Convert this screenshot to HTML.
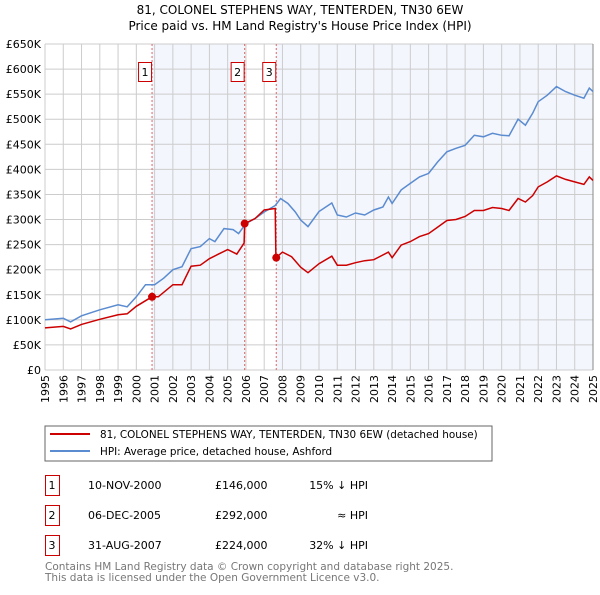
<!DOCTYPE html>
<html><head><meta charset="utf-8"><style>
body{margin:0;background:#fff;font-family:"Liberation Sans","DejaVu Sans",sans-serif;}
svg text{font-family:"DejaVu Sans","Liberation Sans",sans-serif;}
</style></head><body>
<svg id="c" width="600" height="590" xmlns="http://www.w3.org/2000/svg">
<text x="300" y="14" text-anchor="middle" font-size="12">81, COLONEL STEPHENS WAY, TENTERDEN, TN30 6EW</text>
<text x="300" y="30" text-anchor="middle" font-size="12">Price paid vs. HM Land Registry's House Price Index (HPI)</text>
<g id="plot"></g>
<rect x="45" y="426" width="447" height="35" fill="#fff" stroke="#666"/>
<line x1="50" y1="434" x2="90" y2="434" stroke="#cc0000" stroke-width="2"/>
<text x="100" y="438" font-size="10.4">81, COLONEL STEPHENS WAY, TENTERDEN, TN30 6EW (detached house)</text>
<line x1="50" y1="451" x2="90" y2="451" stroke="#5b8bd0" stroke-width="2"/>
<text x="100" y="455" font-size="10.4">HPI: Average price, detached house, Ashford</text>
<g font-size="11">
<rect x="45.5" y="475.5" width="14" height="20" fill="#fff" stroke="#cc0000"/><text x="52" y="489" text-anchor="middle">1</text>
<text x="88" y="489">10-NOV-2000</text><text x="215" y="489">£146,000</text><text x="368" y="489" text-anchor="end">15% ↓ HPI</text>
<rect x="45.5" y="505.5" width="14" height="20" fill="#fff" stroke="#cc0000"/><text x="52" y="519" text-anchor="middle">2</text>
<text x="88" y="519">06-DEC-2005</text><text x="215" y="519">£292,000</text><text x="368" y="519" text-anchor="end">≈ HPI</text>
<rect x="45.5" y="535.5" width="14" height="20" fill="#fff" stroke="#cc0000"/><text x="52" y="549" text-anchor="middle">3</text>
<text x="88" y="549">31-AUG-2007</text><text x="215" y="549">£224,000</text><text x="368" y="549" text-anchor="end">32% ↓ HPI</text>
</g>
<text x="45" y="570" font-size="10.5" fill="#777">Contains HM Land Registry data © Crown copyright and database right 2025.</text>
<text x="45" y="581" font-size="10.5" fill="#777">This data is licensed under the Open Government Licence v3.0.</text>
</svg>
<script>
const hpiYears=[1995,1996,1996.4,1997,1998,1999,1999.5,2000,2000.5,2001,2001.5,2002,2002.5,2003,2003.5,2004,2004.3,2004.8,2005.3,2005.6,2006,2006.5,2007,2007.6,2007.9,2008.3,2008.7,2009,2009.4,2010,2010.7,2011,2011.5,2012,2012.5,2013,2013.5,2013.8,2014,2014.5,2015,2015.5,2016,2016.5,2017,2017.5,2018,2018.5,2019,2019.5,2020,2020.4,2020.9,2021.3,2021.7,2022,2022.5,2023,2023.5,2024,2024.5,2024.8,2025];
const hpiValues=[100,103,96,108,120,130,126,146,170,170,183,200,206,242,246,262,256,282,280,272,292,302,315,328,342,332,315,299,286,316,333,309,305,313,309,319,325,345,332,359,372,385,392,415,435,442,448,468,465,472,468,467,500,488,512,535,548,565,555,548,542,562,555];
const priceYears=[1995,1996,1996.4,1997,1998,1999,1999.5,2000,2000.86,2001.2,2002,2002.5,2003,2003.5,2004,2004.5,2005,2005.5,2005.9,2005.93,2006.5,2007,2007.6,2007.64,2008,2008.5,2009,2009.4,2010,2010.7,2011,2011.5,2012,2012.5,2013,2013.8,2014,2014.5,2015,2015.5,2016,2016.5,2017,2017.5,2018,2018.5,2019,2019.5,2020,2020.4,2020.9,2021.3,2021.7,2022,2022.5,2023,2023.5,2024,2024.5,2024.8,2025];
const priceValues=[84,87,82,91,101,110,112,127,146,146,170,170,207,209,222,231,240,231,253,292,302,319,322,224,235,226,205,194,212,227,209,209,214,218,220,235,224,249,256,266,272,285,298,300,306,318,318,324,322,318,342,335,348,365,375,387,380,375,370,385,378];
const saleYears=[2000.86,2005.93,2007.66];
const saleValues=[146,292,224];
const saleLabels=["1","2","3"];
const yTicks=[0,50,100,150,200,250,300,350,400,450,500,550,600,650];
const yTickLabels=["£0","£50K","£100K","£150K","£200K","£250K","£300K","£350K","£400K","£450K","£500K","£550K","£600K","£650K"];
const xTicks=[1995,1996,1997,1998,1999,2000,2001,2002,2003,2004,2005,2006,2007,2008,2009,2010,2011,2012,2013,2014,2015,2016,2017,2018,2019,2020,2021,2022,2023,2024,2025];

const L=45,R=593,T=44,B=370;
const xs=y=>L+(y-1995)/30*(R-L);
const ys=v=>B-v/650*(B-T);
const g=document.getElementById('plot');
const NS='http://www.w3.org/2000/svg';
function mk(tag,at){const e=document.createElementNS(NS,tag);for(const k in at)e.setAttribute(k,at[k]);g.appendChild(e);return e;}
let e;
e=mk('rect',{x:L,y:T,width:R-L,height:B-T,fill:'#fff'});


e=mk('rect',{x:xs(saleYears[0]),y:T,width:xs(saleYears[1])-xs(saleYears[0]),height:B-T,fill:'#f3f6fd'});


e=mk('rect',{x:xs(saleYears[2]),y:T,width:R-xs(saleYears[2]),height:B-T,fill:'#f3f6fd'});


yTicks.forEach((t,i)=>{
 e=mk('line',{x1:L,x2:R,y1:ys(t),y2:ys(t),stroke:'#ccc'});
 
 
 e=mk('text',{x:L-4,y:ys(t)+4,'text-anchor':'end','font-size':11});
 e.textContent=yTickLabels[i];
 
 
});
xTicks.forEach(t=>{
 e=mk('line',{x1:xs(t),x2:xs(t),y1:T,y2:B,stroke:'#ccc'});
 
 
 const tx=xs(t)+4, ty=B+5;
 e=mk('text',{x:tx,y:ty,'font-size':11,'text-anchor':'end',transform:'rotate(-90 '+tx+' '+ty+')'});
 e.textContent=t;
 
 
});
e=mk('line',{x1:R,x2:R,y1:T,y2:B,stroke:'#888'});


saleYears.forEach((s,i)=>{
 e=mk('line',{x1:xs(s),x2:xs(s),y1:T,y2:B,stroke:'#e06666','stroke-dasharray':'2,2'});
 
 
 e=mk('rect',{x:xs(s)-13.5,y:62.5,width:13,height:19,fill:'#fff',stroke:'#cc0000'});
 
 
 e=mk('text',{x:xs(s)-7,y:76,'text-anchor':'middle','font-size':11});
 e.textContent=saleLabels[i];
 
 
});
const pts=(X,V)=>X.map((x,i)=>xs(x).toFixed(1)+','+ys(V[i]).toFixed(1)).join(' ');
e=mk('polyline',{points:pts(hpiYears,hpiValues),fill:'none',stroke:'#5b8bd0','stroke-width':1.5});


e=mk('polyline',{points:pts(priceYears,priceValues),fill:'none',stroke:'#cc0000','stroke-width':1.5});


saleYears.forEach((s,i)=>{
 e=mk('circle',{cx:xs(s),cy:ys(saleValues[i]),r:4,fill:'#cc0000'});
 
 
});
</script>
</body></html>
